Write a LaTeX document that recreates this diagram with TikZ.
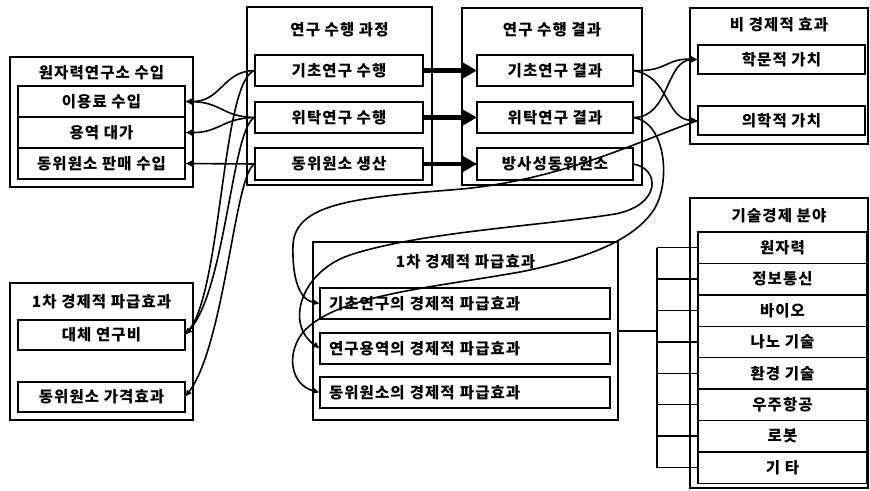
\documentclass[tikz,border=0pt]{standalone}
\usepackage{fontspec}
\setmainfont{Noto Sans CJK KR}[LetterSpace=7]
\usetikzlibrary{arrows.meta}
\tikzset{
  frame/.style={draw, line width=1.4pt, inner sep=0pt, outer sep=0pt},
  cell/.style={draw, line width=1.4pt, inner sep=0pt, outer sep=0pt, fill=white,
    font=\bfseries\fontsize{15.5}{17}\selectfont},
  cellL/.style={cell, inner xsep=9pt, text width=272pt, align=left},
  ttl/.style={inner sep=0pt, font=\bfseries\fontsize{15.5}{17}\selectfont},
  conn/.style={line width=1.6pt, -{Latex[length=7pt,width=6.5pt]}},
  fat/.style={line width=4.5pt, -{Triangle[length=16pt,width=17pt]}},
  br/.style={line width=1.3pt},
}
\begin{document}
\begin{tikzpicture}[x=1pt,y=-1pt]
\useasboundingbox (0,0) rectangle (870,490);

% outer frames
\node[frame, minimum width=183pt, minimum height=130pt] (A) at (101.5,122) {};
\node[frame, minimum width=185pt, minimum height=178pt] (B) at (339.5,96) {};
\node[frame, minimum width=180pt, minimum height=177pt] (C) at (552,96.5) {};
\node[frame, minimum width=178pt, minimum height=136pt] (D) at (779,76) {};
\node[frame, minimum width=183pt, minimum height=137pt] (E) at (101.5,351.5) {};
\node[frame, minimum width=305pt, minimum height=178pt] (F) at (465.5,331) {};
\node[frame, minimum width=178pt, minimum height=290pt] (G) at (779,343) {};

% titles
\node[ttl] (tA) at (101.5,73) {원자력연구소 수입};
\node[ttl] (tB) at (339.5,30) {연구 수행 과정};
\node[ttl] (tC) at (552,30) {연구 수행 결과};
\node[ttl] (tD) at (779,25) {비 경제적 효과};
\node[ttl] (tE) at (101.5,302) {1차 경제적 파급효과};
\node[ttl] (tF) at (465.5,262) {1차 경제적 파급효과};
\node[ttl] (tG) at (779,216) {기술경제 분야};

% cells
\node[cell, minimum width=167pt, minimum height=31pt] (a1) at (101.5,101.5) {이용료 수입};
\node[cell, minimum width=167pt, minimum height=31pt] (a2) at (101.5,132.5) {용역 대가};
\node[cell, minimum width=167pt, minimum height=31pt] (a3) at (101.5,163.5) {동위원소 판매 수입};

\node[cell, minimum width=168pt, minimum height=31pt] (p1) at (339,70.5) {기초연구 수행};
\node[cell, minimum width=168pt, minimum height=31pt] (p2) at (339,117.5) {위탁연구 수행};
\node[cell, minimum width=168pt, minimum height=32pt] (p3) at (339,164) {동위원소 생산};

\node[cell, minimum width=156pt, minimum height=31pt] (c1) at (555,70.5) {기초연구 결과};
\node[cell, minimum width=156pt, minimum height=31pt] (c2) at (555,117.5) {위탁연구 결과};
\node[cell, minimum width=156pt, minimum height=32pt] (c3) at (555,164) {방사성동위원소};

\node[cell, minimum width=167pt, minimum height=29pt] (d1) at (781.5,59.5) {학문적 가치};
\node[cell, minimum width=167pt, minimum height=29pt] (d2) at (781.5,120.5) {의학적 가치};

\node[cell, minimum width=167pt, minimum height=30pt] (e1) at (101.5,335) {대체 연구비};
\node[cell, minimum width=167pt, minimum height=30pt] (e2) at (101.5,397) {동위원소 가격효과};

\node[cellL, minimum height=31pt] (f1) at (465,303.5) {기초연구의 경제적 파급효과};
\node[cellL, minimum height=31pt] (f2) at (465,348.5) {연구용역의 경제적 파급효과};
\node[cellL, minimum height=31pt] (f3) at (465,392.5) {동위원소의 경제적 파급효과};

\node[cell, minimum width=169pt, minimum height=31.4pt] (g1) at (782.5,247.7) {원자력};
\node[cell, minimum width=169pt, minimum height=31.4pt] (g2) at (782.5,279.1) {정보통신};
\node[cell, minimum width=169pt, minimum height=31.4pt] (g3) at (782.5,310.5) {바이오};
\node[cell, minimum width=169pt, minimum height=31.4pt] (g4) at (782.5,341.9) {나노 기술};
\node[cell, minimum width=169pt, minimum height=31.4pt] (g5) at (782.5,373.3) {환경 기술};
\node[cell, minimum width=169pt, minimum height=31.4pt] (g6) at (782.5,404.7) {우주항공};
\node[cell, minimum width=169pt, minimum height=31.4pt] (g7) at (782.5,436.1) {로봇};
\node[cell, minimum width=169pt, minimum height=31.4pt] (g8) at (782.5,467.5) {기 타};

% bracket to technology fields
\coordinate (bx) at (657,0);
\draw[br] (F.east) -- (F.east -| bx);
\draw[br] (g1.west -| bx) -- (g8.west -| bx);
\foreach \g in {g1,g2,g3,g4,g5,g6,g7,g8}{
  \draw[br] (\g.west -| bx) -- (\g.west);
}

% thick arrows process -> result
\draw[fat] (p1.east) -- (c1.west);
\draw[fat] (p2.east) -- (c2.west);
\draw[fat] (p3.east) -- (c3.west);

% left connectors
\draw[conn] (p1.west) .. controls (222,71) and (222,102) .. (a1.east);
\draw[conn] (p2.west) .. controls (222,117) and (222,102) .. (a1.east);
\draw[conn] (p2.west) .. controls (222,118) and (220,133) .. (a2.east);
\draw[conn] (p3.west) -- (a3.east);
\draw[conn] (p1.west) .. controls (222,78) and (222,290) .. (e1.east);
\draw[conn] (p2.west) .. controls (232,125) and (226,290) .. (e1.east);
\draw[conn] (p3.west) .. controls (235,170) and (225,345) .. (e2.east);

% right connectors
\draw[conn] (c1.east) .. controls (668,72) and (665,58) .. (d1.west);
\draw[conn] (c2.east) .. controls (670,118) and (665,60) .. (d1.west);
\draw[conn] (c1.east) .. controls (670,76) and (665,120) .. (d2.west);
\draw[conn] (d2.west) .. controls (640,140) and (560,182) .. (450,190)
  .. controls (350,198) and (295,205) .. (293,245)
  .. controls (292,280) and (300,300) .. (f1.west);
\draw[conn] (c3.east) .. controls (660,168) and (662,205) .. (615,214)
  .. controls (540,226) and (420,232) .. (350,255)
  .. controls (300,272) and (285,325) .. (f2.west);
\draw[conn] (c2.east) .. controls (668,122) and (672,190) .. (650,215)
  .. controls (630,240) and (590,258) .. (520,272)
  .. controls (430,288) and (340,295) .. (305,330)
  .. controls (285,352) and (290,385) .. (f3.west);
\end{tikzpicture}
\end{document}
